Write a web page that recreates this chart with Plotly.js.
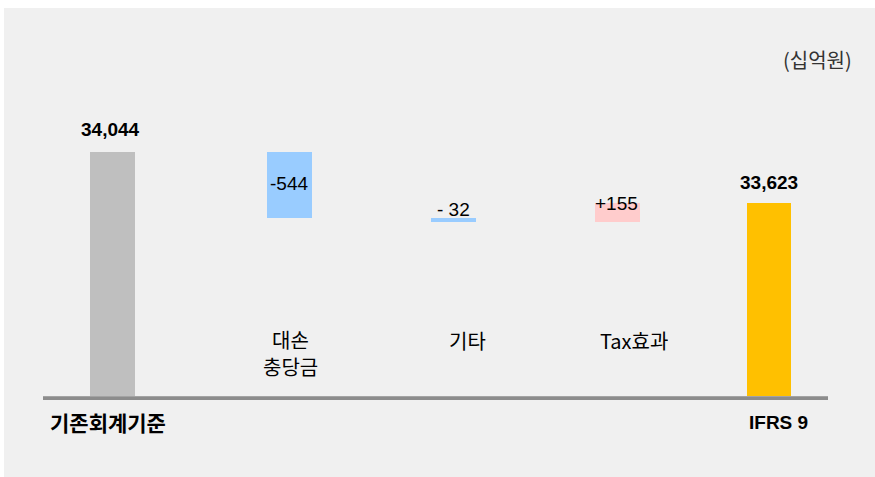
<!DOCTYPE html>
<html>
<head>
<meta charset="utf-8">
<script src="https://cdn.plot.ly/plotly-3.0.1.min.js"></script>
<style>
  html, body { margin: 0; padding: 0; background: #ffffff; width: 875px; height: 477px; overflow: hidden; }
  #chart { position: absolute; left: 4px; top: 8px; width: 871px; height: 469px; }
</style>
</head>
<body>
<div id="chart"></div>
<script>
// ---- data ----
const categories = ['기존회계기준', '대손충당금', '기타', 'Tax효과', 'IFRS 9'];
const axisLabels = ['기존회계기준', '대손<br>충당금', '기타', 'Tax효과', 'IFRS 9'];
const measures = ['absolute', 'relative', 'relative', 'relative', 'total'];
const values = [34044, -544, -32, 155, 33623];
const valueLabels = ['34,044', '-544', '- 32', '+155', '33,623'];
const unitLabel = '(십억원)';

// ---- styles ----
const barColors = ['#bfbfbf', '#99ccff', '#99ccff', '#ffcccc', '#ffc000'];
const barWidth = 0.274;
const barOffsets = [-0.137, -0.059, -0.059, -0.06, -0.137];

// running totals -> bases
const bases = [], heights = [];
let running = 0;
values.forEach((v, i) => {
  if (measures[i] === 'relative') {
    bases.push(running);
    heights.push(v);
    running += v;
  } else {
    bases.push(0);
    heights.push(v);
    running = v;
  }
});

const trace = {
  type: 'bar',
  x: categories,
  y: heights,
  base: bases,
  width: barWidth,
  offset: barOffsets,
  marker: { color: barColors, line: { width: 0 } },
  hoverinfo: 'none',
  showlegend: false
};

const numFont = { family: 'Liberation Sans, Arial, sans-serif', size: 19, color: '#000000' };

const annotations = [];
// value labels
const valShift = [
  { xs: -2, ys: 23, bold: true, pos: 'top' },
  { xs: 12.4, ys: 1.5, bold: false, pos: 'mid' },
  { xs: 12.3, ys: 8, bold: false, pos: 'top' },
  { xs: 11.2, ys: 0, bold: false, pos: 'top' },
  { xs: 0, ys: 21, bold: true, pos: 'top' }
];
values.forEach((v, i) => {
  const s = valShift[i];
  let yv;
  if (measures[i] === 'relative') {
    const top = Math.max(bases[i], bases[i] + heights[i]);
    const bot = Math.min(bases[i], bases[i] + heights[i]);
    yv = s.pos === 'mid' ? (top + bot) / 2 : top;
  } else {
    yv = heights[i];
  }
  annotations.push({
    x: categories[i], y: yv, xref: 'x', yref: 'y',
    text: s.bold ? '<b>' + valueLabels[i] + '</b>' : valueLabels[i],
    showarrow: false, xanchor: 'center', yanchor: 'middle',
    xshift: s.xs, yshift: s.ys,
    font: numFont
  });
});

// category labels (each line as its own annotation)
const catPos = [
  { xs: -4.5, y: [-0.070], bold: true, font: 'kor', size: 21 },
  { xs: 13.4, y: [0.1535, 0.0815], bold: false, font: 'kor', size: 20 },
  { xs: 26.3, y: [0.1495], bold: false, font: 'kor', size: 20 },
  { xs: 29.2, y: [0.1495], bold: false, font: 'kor', size: 20 },
  { xs: 9, y: [-0.0707], bold: true, font: 'lat', size: 19 }
];
axisLabels.forEach((t, i) => {
  const p = catPos[i];
  const fam = p.font === 'lat'
    ? 'Liberation Sans, Arial, sans-serif'
    : 'Noto Sans CJK KR, sans-serif';
  t.split('<br>').forEach((line, k) => {
    annotations.push({
      x: categories[i], y: p.y[k], xref: 'x', yref: 'paper',
      text: p.bold ? '<b>' + line + '</b>' : line,
      showarrow: false, xanchor: 'center', yanchor: 'middle',
      xshift: p.xs, align: 'center', height: p.size + 3,
      font: { family: fam, size: p.size, color: '#000000' }
    });
  });
});

// unit label
annotations.push({
  x: 0.986, y: 0.914, xref: 'paper', yref: 'paper',
  text: unitLabel, showarrow: false, xanchor: 'center', yanchor: 'middle',
  font: { family: 'Noto Sans CJK KR, sans-serif', size: 20, color: '#333333' }
});

const layout = {
  width: 871, height: 469,
  margin: { l: 39, r: 47, t: 20, b: 81, pad: 0 },
  paper_bgcolor: '#f0f0f0',
  plot_bgcolor: 'rgba(0,0,0,0)',
  xaxis: {
    type: 'category',
    range: [-0.4235, 4.3595],
    showgrid: false, zeroline: false, showline: false,
    showticklabels: false, ticks: '', fixedrange: true
  },
  yaxis: {
    range: [32029, 35069],
    showgrid: false, zeroline: false, showline: false,
    showticklabels: false, ticks: '', fixedrange: true
  },
  bargap: 0,
  shapes: [
    {
      type: 'rect', xref: 'paper', yref: 'paper',
      ysizemode: 'pixel', yanchor: 0,
      x0: 0, x1: 1, y0: -4, y1: 0,
      fillcolor: '#8c8c8c', line: { width: 0 }, layer: 'above'
    },
    {
      type: 'rect', xref: 'paper', yref: 'paper',
      ysizemode: 'pixel', yanchor: 0,
      x0: 0, x1: 1, y0: -1, y1: 0,
      fillcolor: '#a3a3a3', line: { width: 0 }, layer: 'above'
    }
  ],
  annotations: annotations
};

Plotly.newPlot('chart', [trace], layout, { staticPlot: true, displayModeBar: false });
</script>
</body>
</html>
